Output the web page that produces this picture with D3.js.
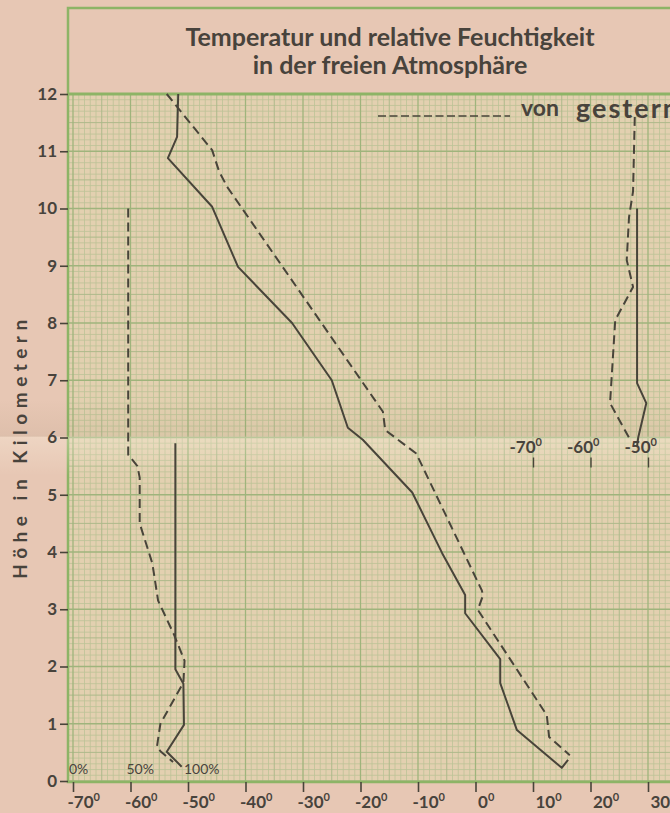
<!DOCTYPE html>
<html>
<head>
<meta charset="utf-8">
<script src="https://cdn.jsdelivr.net/npm/d3@7/dist/d3.min.js"></script>
<style>
  html, body { margin: 0; padding: 0; background: #e7c7b4; }
  svg { display: block; }
  text { font-family: Lato, 'Open Sans', sans-serif; fill: #48433c; }
</style>
</head>
<body>
<svg id="chart" width="670" height="813"></svg>
<script>
//

const heightTicks = [0, 1, 2, 3, 4, 5, 6, 7, 8, 9, 10, 11, 12]
const tempTicks = [-70, -60, -50, -40, -30, -20, -10, 0, 10, 20, 30]
const upperTicks = [-70, -60, -50, -40]
const humidityTicks = [0, 50, 100]

// [temperatur °C, höhe km]
const tempHeute = [
  [-51.7, 12.0], [-51.9, 11.25], [-53.5, 10.88], [-45.8, 10.03], [-41.3, 8.98],
  [-31.9, 8.0], [-25.0, 7.0], [-22.2, 6.17], [-19.6, 5.96], [-11.0, 5.04],
  [-5.8, 3.98], [-1.8, 3.25], [-1.8, 2.93], [4.3, 2.13], [4.3, 1.71],
  [7.2, 0.89], [15.0, 0.23], [16.1, 0.37]
]
const tempGestern = [
  [-53.7, 12.0], [-45.8, 11.02], [-44.6, 10.65], [-43.2, 10.38], [-16.1, 6.45],
  [-15.7, 6.13], [-10.3, 5.72], [1.1, 3.33], [1.3, 3.24], [0.4, 2.99],
  [12.4, 1.15], [12.8, 0.77], [16.4, 0.45]
]

// [relative feuchtigkeit %, höhe km]
const feuchteHeute = [
  [89, 5.9], [89, 1.95], [96, 1.7], [96.5, 0.98], [81.5, 0.51], [94.5, 0.25]
]
const feuchteGestern = [
  [48, 10.0], [48, 5.7], [56, 5.5], [58, 5.3], [58, 4.5], [69, 3.8], [74, 3.15],
  [88, 2.55], [97, 2.1], [96, 1.72], [76, 1.0], [73, 0.6], [76, 0.52], [87, 0.33]
]

// oberer Teil, auf der verschobenen Skala (-70° .. -40°)
const obenHeute = [
  [-51.9, 10.0], [-51.9, 6.95], [-50.3, 6.6], [-51.7, 6.0], [-51.9, 5.85]
]
const obenGestern = [
  [-52.3, 11.6], [-52.6, 10.3], [-53.3, 9.85], [-53.7, 9.1], [-52.6, 8.63],
  [-55.7, 8.05], [-56.6, 6.6], [-53.1, 5.96]
]

//

const width = 670
const frame = {left: 68, top: 8, right: 670, plotTop: 94, bottom: 782}
const ink = '#48443a'

const x = d3.scaleLinear().domain([-70, 30]).range([73, 648])
const y = d3.scaleLinear().domain([0, 12]).range([781, 94])
const rh = d3.scaleLinear().domain([0, 100]).range([x(-70), x(-50)])
const xOben = d3.scaleLinear().domain([-70, -40]).range([x(10), x(40)])

const svg = d3.select('#chart')
const defs = svg.append('defs')

defs.append('clipPath').attr('id', 'plot-clip')
  .append('rect')
  .attr('x', frame.left).attr('y', frame.plotTop)
  .attr('width', frame.right - frame.left).attr('height', frame.bottom - frame.plotTop)

// Millimeterpapier

svg.append('rect')
  .attr('x', frame.left).attr('y', frame.plotTop)
  .attr('width', frame.right - frame.left).attr('height', frame.bottom - frame.plotTop)
  .attr('fill', '#e3d0b0')

const grid = svg.append('g').attr('clip-path', 'url(#plot-clip)')
const vLines = d3.range(-71, 36)
const hLines = d3.range(0, 121)
const level = (i) => i % 10 === 0 ? 2 : (i % 5 === 0 ? 1 : 0)
const gridStyle = [
  {stroke: '#bcc397', width: 0.8},
  {stroke: '#adb98a', width: 1},
  {stroke: '#9fb47c', width: 1.3}
]

;[0, 1, 2].forEach((lv) => {
  grid.selectAll(null)
    .data(vLines.filter((v) => level(v) === lv))
    .enter().append('line')
    .attr('x1', (d) => x(d)).attr('x2', (d) => x(d))
    .attr('y1', frame.plotTop).attr('y2', frame.bottom)
    .attr('stroke', gridStyle[lv].stroke)
    .attr('stroke-width', gridStyle[lv].width)

  grid.selectAll(null)
    .data(hLines.filter((i) => level(i) === lv))
    .enter().append('line')
    .attr('x1', frame.left).attr('x2', frame.right)
    .attr('y1', (d) => y(d / 10)).attr('y2', (d) => y(d / 10))
    .attr('stroke', gridStyle[lv].stroke)
    .attr('stroke-width', gridStyle[lv].width)
})

// Rahmen

const border = svg.append('g')
  .attr('stroke', '#8db466')
  .attr('stroke-width', 2.5)
  .attr('fill', 'none')

border.append('path')
  .attr('d', `M${frame.right},${frame.top}H${frame.left}V${frame.bottom}H${frame.right}`)
border.append('line')
  .attr('x1', frame.left).attr('x2', frame.right)
  .attr('y1', frame.plotTop).attr('y2', frame.plotTop)
  .attr('stroke-width', 3)

// Falz im Papier

const fold = defs.append('linearGradient').attr('id', 'fold')
  .attr('x1', 0).attr('x2', 0).attr('y1', 0).attr('y2', 1)
fold.append('stop').attr('offset', '0%').attr('stop-color', '#6b5a3a').attr('stop-opacity', 0)
fold.append('stop').attr('offset', '46%').attr('stop-color', '#6b5a3a').attr('stop-opacity', 0.07)
fold.append('stop').attr('offset', '50%').attr('stop-color', '#fff8e6').attr('stop-opacity', 0.28)
fold.append('stop').attr('offset', '100%').attr('stop-color', '#fff8e6').attr('stop-opacity', 0)

svg.append('rect')
  .attr('x', 0).attr('y', y(6) - 38)
  .attr('width', width).attr('height', 76)
  .attr('fill', 'url(#fold)')

// Kurven

const line = (sx) => d3.line().x((d) => sx(d[0])).y((d) => y(d[1]))
const curves = svg.append('g')
  .attr('fill', 'none')
  .attr('stroke', ink)
  .attr('stroke-width', 2)
  .attr('stroke-linejoin', 'round')

const series = [
  {data: tempHeute, scale: x, dash: null},
  {data: tempGestern, scale: x, dash: '9 5'},
  {data: feuchteHeute, scale: rh, dash: null},
  {data: feuchteGestern, scale: rh, dash: '9 5'},
  {data: obenHeute, scale: xOben, dash: null},
  {data: obenGestern, scale: xOben, dash: '9 5'}
]

curves.selectAll('path')
  .data(series)
  .enter().append('path')
  .attr('d', (d) => line(d.scale)(d.data))
  .attr('stroke-dasharray', (d) => d.dash)

// Achsen

const degreeLabel = (selection, dxNeg, dxPos) => {
  selection.each(function (d) {
    const t = d3.select(this).text(null)
      .attr('x', d < 0 ? dxNeg : dxPos)
    t.append('tspan').text((d < 0 ? '-' : '') + Math.abs(d))
    t.append('tspan').attr('dy', -7).attr('font-size', 11).text('0')
  })
}

const labelFont = (selection, size) => selection
  .attr('font-size', size).attr('font-weight', 700)
  .attr('font-family', 'Lato, sans-serif')
  .attr('fill', '#3f3b35')

const yAxis = svg.append('g')
  .attr('transform', `translate(${frame.left},0)`)
  .call(d3.axisLeft(y).tickValues(heightTicks).tickSize(8).tickPadding(3))
yAxis.select('.domain').remove()
yAxis.selectAll('line').attr('stroke', ink).attr('stroke-width', 1.6)
yAxis.selectAll('text').call(labelFont, 17)

const xAxis = svg.append('g')
  .attr('transform', `translate(0,${frame.bottom})`)
  .call(d3.axisBottom(x).tickValues(tempTicks).tickSize(10).tickPadding(4))
xAxis.select('.domain').remove()
xAxis.selectAll('line').attr('stroke', ink).attr('stroke-width', 1.6)
xAxis.selectAll('text')
  .call(labelFont, 17)
  .attr('text-anchor', 'start')
  .attr('y', 26).attr('dy', 0)
  .call(degreeLabel, -6, 2)

const obenAxis = svg.append('g')
  .attr('transform', `translate(0,${y(6) + 20})`)
  .call(d3.axisBottom(xOben).tickValues(upperTicks).tickSize(10))
obenAxis.select('.domain').remove()
obenAxis.selectAll('line').attr('stroke', ink).attr('stroke-width', 1.4)
obenAxis.selectAll('text')
  .call(labelFont, 17)
  .attr('fill', '#4a463e')
  .attr('text-anchor', 'start')
  .attr('y', -5).attr('dy', 0)
  .call(degreeLabel, -24, -17)

svg.append('g')
  .selectAll('text')
  .data(humidityTicks)
  .enter().append('text')
  .attr('x', (d) => rh(d) - 4)
  .attr('y', frame.bottom - 8)
  .attr('font-family', 'DejaVu Sans, sans-serif')
  .attr('font-size', 14)
  .attr('fill', '#6d7556')
  .text((d) => d + '%')

// Beschriftung

svg.append('text')
  .attr('transform', `translate(27,${y(6) + 9}) rotate(-90)`)
  .attr('text-anchor', 'middle')
  .attr('font-size', 19).attr('font-weight', 700)
  .attr('letter-spacing', 5.5)
  .text('Höhe in Kilometern')

const title = svg.append('g')
  .attr('text-anchor', 'middle')
  .attr('font-size', 25)
  .attr('font-weight', 700)
  .attr('fill', '#4a443d')
title.append('text').attr('x', 390).attr('y', 46)
  .text('Temperatur und relative Feuchtigkeit')
title.append('text').attr('x', 390).attr('y', 74)
  .text('in der freien Atmosphäre')

const legend = svg.append('g')
legend.append('line')
  .attr('x1', 378).attr('x2', 510)
  .attr('y1', 116).attr('y2', 116)
  .attr('stroke', ink).attr('stroke-width', 1.6)
  .attr('stroke-dasharray', '8 3.5')
legend.append('text')
  .attr('x', 521).attr('y', 116)
  .attr('font-size', 23).attr('font-weight', 700)
  .attr('fill', '#46423b')
  .text('von')
legend.append('text')
  .attr('x', 576).attr('y', 118)
  .attr('font-size', 27).attr('font-weight', 700)
  .attr('letter-spacing', 2)
  .attr('fill', '#46423b')
  .text('gestern')
</script>
</body>
</html>
